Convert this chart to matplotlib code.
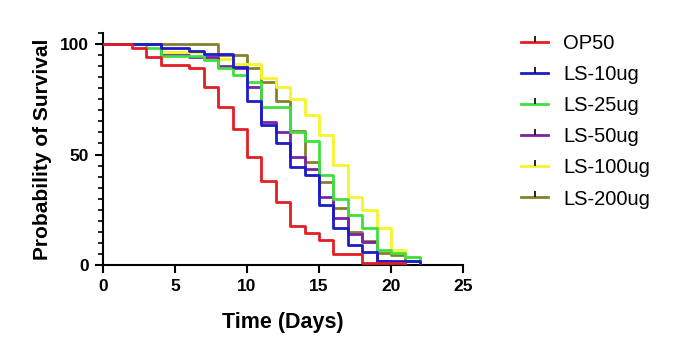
import matplotlib
matplotlib.use("Agg")
import matplotlib.pyplot as plt
from matplotlib.lines import Line2D
from matplotlib.ticker import MultipleLocator

plt.rcParams['font.family'] = ['Liberation Sans', 'DejaVu Sans']

# Kaplan-Meier survival steps: day of each event and % surviving after it
op50_t = [0, 2, 3, 4, 6, 7, 8, 9, 10, 11, 12, 13, 14, 15, 16, 18, 21]
op50_s = [100, 98, 94, 90.5, 89, 80.7, 71.3, 61.7, 48.8, 38.1, 28.4, 17.8, 14.5, 11.3, 5, 1, 0]

ls10_t = [0, 4, 6, 7, 9, 10, 11, 12, 13, 14, 15, 16, 17, 18, 19, 22]
ls10_s = [100, 98, 97, 95.5, 89.5, 74, 63.5, 55, 44.5, 40.7, 27, 16.6, 9, 6, 2, 0]

ls25_t = [0, 3, 4, 7, 8, 9, 10, 11, 13, 14, 15, 16, 17, 18, 19, 20, 21, 22]
ls25_s = [100, 98, 94.5, 93, 89, 86, 83, 71.6, 60, 56, 40.7, 29.9, 22.6, 16.6, 6.8, 5.3, 3.5, 0]

ls50_t = [0, 4, 6, 8, 9, 10, 11, 12, 13, 14, 15, 16, 17, 18, 19, 20]
ls50_s = [100, 95, 94, 90.2, 89, 80.7, 64.8, 60, 49, 43.3, 30.8, 21.1, 13.9, 10.5, 2, 0]

ls100_t = [0, 4, 7, 9, 11, 12, 13, 14, 15, 16, 17, 18, 19, 20, 21, 22]
ls100_s = [100, 96.5, 93.2, 91, 84.5, 80.7, 75.3, 68, 58.8, 45.2, 31, 25, 16.6, 6.8, 3.8, 0]

ls200_t = [0, 8, 10, 11, 12, 13, 14, 15, 16, 17, 18, 19, 20, 21, 22]
ls200_s = [100, 95, 89, 83, 74, 60.5, 46.8, 37.5, 25.6, 15, 11, 5.3, 4.5, 2, 0]

labels = ['OP50', 'LS-10ug', 'LS-25ug', 'LS-50ug', 'LS-100ug', 'LS-200ug']
colors = ['#e31e24', '#1c1cc8', '#3ee03e', '#7b22a8', '#f5f52a', '#86802a']
series = [(op50_t, op50_s), (ls10_t, ls10_s), (ls25_t, ls25_s),
          (ls50_t, ls50_s), (ls100_t, ls100_s), (ls200_t, ls200_s)]

fig = plt.figure(figsize=(6.8, 3.45), dpi=100)
ax = fig.add_axes([103 / 680, 80 / 345, 360 / 680, 232 / 345])

# draw last group first so OP50 ends up on top
for i in reversed(range(len(series))):
    t, s = series[i]
    ax.step(t, s, where='post', color=colors[i], lw=2, zorder=2 + (6 - i))

ax.set_xlim(0, 25)
ax.set_ylim(0, 105)
ax.xaxis.set_major_locator(MultipleLocator(5))
ax.yaxis.set_major_locator(MultipleLocator(50))
ax.yaxis.set_minor_locator(MultipleLocator(5))

for side in ['top', 'right']:
    ax.spines[side].set_visible(False)
for side in ['left', 'bottom']:
    ax.spines[side].set_linewidth(1.5)
ax.tick_params(which='major', length=6, width=1.5, labelsize=12.5, pad=4)
ax.tick_params(which='minor', length=3.5, width=1.2)
for lbl in ax.get_xticklabels() + ax.get_yticklabels():
    lbl.set_fontweight('bold')

ax.set_xlabel('Time (Days)', fontsize=15.5, fontweight='bold', labelpad=13)
ax.set_ylabel('Probability of Survival', fontsize=15, fontweight='bold', labelpad=6)

handles = [Line2D([0], [0], color=c, lw=2, marker=2, markersize=4,
                  markeredgecolor='black', markeredgewidth=1.2)
           for c in colors]
fig.legend(handles, labels, loc='upper left', bbox_to_anchor=(503 / 680, 1 - 16 / 345),
           frameon=False, fontsize=14.5, handlelength=1.35, handletextpad=0.75,
           labelspacing=0.6, numpoints=1)

fig.savefig('out.png', dpi=100)
